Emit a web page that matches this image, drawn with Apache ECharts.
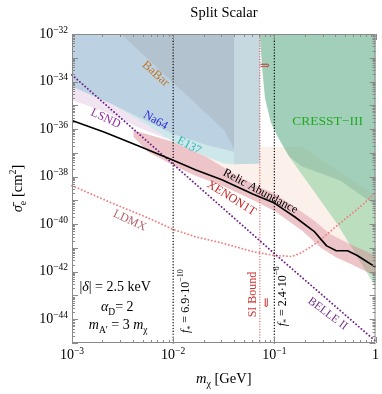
<!DOCTYPE html>
<html><head><meta charset="utf-8">
<script src="https://cdn.jsdelivr.net/npm/echarts@6/dist/echarts.min.js"></script>
<style>html,body{margin:0;padding:0;background:#fff}#c{width:382px;height:394px}</style>
</head><body><div id="c"></div>
<script>
// ---------- data (m_chi in GeV, sigma_e in cm^2) ----------
const xRange = [1e-3, 1];
const yRange = [1e-45, 1e-32];
const fStarMasses = [0.01, 0.1];
const siBoundMass = 0.072;

const relicAbundance = [[1e-3,2.3e-36],[2.1e-3,7.4e-37],[4.5e-3,2.0e-37],[0.01,4.9e-38],[0.0168,1.9e-38],[0.0303,7.4e-39],[0.062,1.8e-39],[0.1,7.7e-40],[0.16,2.0e-40],[0.247,5.0e-41],[0.288,2.35e-41],[0.329,1.22e-41],[0.41,7.6e-42],[0.53,7.6e-42],[0.66,4.8e-42],[1,1.55e-42]];
const belle2Projection = [[1e-3,1.9e-34],[0.1,5.8e-42],[1,1.2e-45]];
const ldmxProjection = [[1e-3,4.2e-39],[2.35e-3,8.5e-40],[5.6e-3,1.86e-40],[0.01,6.0e-41],[0.0168,2.9e-41],[0.0303,1.62e-41],[0.062,6.9e-42],[0.1,4.8e-42],[0.15,4.4e-42],[0.186,6.3e-42],[0.27,1.78e-41],[0.42,8.9e-41],[0.738,6.3e-40],[1,2.2e-39]];

const lsndRegion = [[1e-3,1e-32],[8.7e-3,1e-32],[8.7e-3,3.8e-37],[4.5e-3,1.2e-36],[2.35e-3,4.5e-36],[1e-3,1.66e-35]];
const peachRegion = [[0.0135,1.8e-37],[0.186,1.8e-37],[1,1.62e-39],[1,4.8e-42],[0.556,1.48e-41],[0.36,3.8e-41],[0.247,1.41e-40],[0.16,5.2e-40],[0.1,2.0e-39],[0.072,3.5e-39],[0.04,1.29e-38],[0.021,7.1e-38]];
const cresstLight = [[0.072,1e-32],[1,1e-32],[1,2.35e-43],[0.42,9.8e-41],[0.14,7.1e-38],[0.108,4.7e-37],[0.0925,1.9e-36],[0.081,2.0e-35],[0.0759,3.4e-34]];
const cresstDark = [[0.072,1e-32],[1,1e-32],[1,6.3e-40],[0.446,6.8e-39],[0.186,2.75e-38],[0.14,7.1e-38],[0.108,4.7e-37],[0.0925,1.9e-36],[0.081,2.0e-35],[0.0759,3.4e-34]];
const xenonBand = [[4.05e-3,8.9e-37],[0.01,2.9e-37],[0.021,7.1e-38],[0.04,1.29e-38],[0.072,3.5e-39],[0.1,2.0e-39],[0.16,5.2e-40],[0.247,1.41e-40],[0.36,3.8e-41],[0.556,1.48e-41],[1,4.8e-42],
  [1,6.6e-43],[0.556,2.2e-42],[0.41,4.0e-42],[0.288,1.02e-41],[0.186,5.5e-41],[0.1,3.6e-40],[0.062,1.02e-39],[0.0303,4.2e-39],[0.0168,1.07e-38],[0.01,3.0e-38],[5.6e-3,1.12e-37],[4.05e-3,4.7e-37]];
const e137Region = [[1e-3,1e-32],[0.072,1e-32],[0.072,3.6e-38],[0.04,3.3e-38],[0.032,3.6e-38],[0.021,7.1e-38],[0.01,2.9e-37],[5.6e-3,1.45e-36],[2.35e-3,1.38e-35],[1e-3,6.2e-35]];
const e137Upper = [[0.04,1e-32],[0.072,1e-32],[0.072,3.6e-38],[0.04,3.3e-38]];
const na64Region = [[1e-3,1e-32],[0.04,1e-32],[0.04,1.12e-37],[0.021,2.2e-37],[0.01,6.2e-37],[5.6e-3,2.1e-36],[2.35e-3,1.26e-35],[1e-3,6.2e-35]];
const babarRegion = [[3.05e-3,1e-32],[0.032,8.9e-37],[0.04,1.5e-37],[0.04,1e-32]];

// The log axis works on sigma_e expressed in units of 1e-40 cm^2 (labels add the factor back).
const Y_UNIT_EXP = -40;
const toAxis = p => [p[0], p[1] * Math.pow(10, -Y_UNIT_EXP)];

// ---------- annotations ----------
const F = '"Liberation Serif", "DejaVu Serif", serif';
const labels = [
  {at:[6.7e-3,2.1e-34], t:'BaBar', c:'#c47a2c', r:-42, s:12.5},
  {at:[6.7e-3,2.3e-36], t:'Na64', c:'#2b2bd9', r:-30, s:12},
  {at:[0.0144,2e-37], t:'E137', c:'#2bb5b5', r:-28, s:12},
  {at:[2.15e-3,2.75e-36], t:'LSND', c:'#8e2a9c', r:-25, s:12},
  {at:[0.336,2.1e-36], t:'CRESST\u2212III', c:'#22aa22', r:0, s:13.5},
  {at:[0.0726,2.4e-39], t:'Relic Abundance', c:'#000', r:-28, s:12},
  {at:[0.0377,1.23e-39], t:'XENON1T', c:'#cc2222', r:-32, s:12},
  {at:[3.72e-3,1.4e-40], t:'LDMX', c:'#b0606a', r:-25, s:12},
  {at:[0.336,1.7e-44], t:'BELLE II', c:'#6f2d86', r:-37, s:11.5},
  {at:[0.061,1.1e-43], t:'SI Bound', c:'#cc3333', r:90, s:12},
  {at:[0.0828,4.3e-44], t:'\u21d3', c:'#cc3333', r:0, s:12},
  {at:[0.0806,4.5e-34], t:'\u21d2', c:'#cc3333', r:0, s:12},
  {at:[0.0132,5.8e-44], t:'{i|f}{sub|*} = 6.9\u00b710{sup|\u221210}', c:'#000', r:90, s:12},
  {at:[0.120,9.1e-44], t:'{i|f}{sub|*} = 2.4\u00b710{sup|\u22126}', c:'#000', r:90, s:12},
  {at:[2.67e-3,2.1e-43], t:'|{i|\u03b4}| = 2.5 keV', c:'#000', r:0, s:14},
  {at:[2.8e-3,3.2e-44], t:'{i|\u03b1}{sub|D}= 2', c:'#000', r:0, s:14},
  {at:[2.86e-3,5.5e-45], t:'{i|m}{sub|A\u2032} = 3 {i|m}{sub|\u03c7}', c:'#000', r:0, s:14}
];

function richFor(size, color) {
  return {
    i: {fontFamily: F, fontStyle: 'italic', fontSize: size, fill: color},
    sub: {fontFamily: F, fontSize: size * 0.68, verticalAlign: 'bottom', lineHeight: size * 0.8, fill: color},
    sup: {fontFamily: F, fontSize: size * 0.68, verticalAlign: 'top', lineHeight: size * 0.8, fill: color}
  };
}

function polySeries(pts, color, z) {
  const ap = pts.map(toAxis);
  return {
    type: 'custom', z: z, silent: true, clip: true, data: ap,
    renderItem: function (params, api) {
      if (params.dataIndex !== 0) return null;
      return {type: 'polygon', shape: {points: ap.map(p => api.coord(p))}, style: {fill: color}};
    }
  };
}
function lineSeries(data, color, dash, width, z) {
  return {type: 'line', data: data.map(toAxis), showSymbol: false, silent: true, z: z, clip: true,
    lineStyle: {color: color, type: dash, width: width, cap: dash === 'solid' ? 'butt' : 'round'}};
}

const yMinA = toAxis([0, yRange[0]])[1], yMaxA = toAxis([0, yRange[1]])[1];

const series = [
  polySeries(lsndRegion, '#efe4f0', 1),
  polySeries(peachRegion, 'rgba(235,185,150,0.2)', 2),
  polySeries(cresstLight, 'rgba(110,200,140,0.45)', 3),
  polySeries(cresstDark, 'rgba(80,140,130,0.25)', 4),
  polySeries(xenonBand, 'rgba(210,110,120,0.40)', 5),
  polySeries(e137Region, '#cde7ea', 6),
  polySeries(e137Upper, '#c6d8e0', 6.5),
  polySeries(na64Region, '#bcd1e2', 7),
  polySeries(babarRegion, 'rgba(150,150,150,0.25)', 8),
  lineSeries(ldmxProjection, '#f47c7c', [0.1, 3.4], 1.8, 10),
  lineSeries(belle2Projection, '#6a1b8a', [0.1, 3.4], 1.8, 10),
  lineSeries(relicAbundance, '#000', 'solid', 1.6, 11),
  lineSeries([[siBoundMass, yRange[0]], [siBoundMass, yRange[1]]], '#d33', [0.1, 2.6], 1.1, 10),
  lineSeries([[fStarMasses[0], yRange[0]], [fStarMasses[0], yRange[1]]], '#111', [0.1, 2.8], 1.4, 10),
  lineSeries([[fStarMasses[1], yRange[0]], [fStarMasses[1], yRange[1]]], '#111', [0.1, 2.8], 1.4, 10),
  {
    type: 'custom', z: 20, silent: true, data: labels.map(l => toAxis(l.at)),
    renderItem: function (params, api) {
      const l = labels[params.dataIndex];
      const p = api.coord(toAxis(l.at));
      return {type: 'text', x: p[0], y: p[1], rotation: l.r * Math.PI / 180,
        style: {text: l.t, fill: l.c, fontFamily: F, fontSize: l.s, lineHeight: l.s * 1.5,
          align: 'center', verticalAlign: 'middle', rich: richFor(l.s, l.c)}};
    }
  },
  {
    type: 'custom', z: 30, silent: true, data: [[xRange[0], yMinA]],
    renderItem: function (params, api) {
      const cs = params.coordSys;
      const ch = [];
      const st = {stroke: '#8a8a8a', lineWidth: 1};
      const x0 = cs.x, x1 = cs.x + cs.width, y0 = cs.y, y1 = cs.y + cs.height;
      for (let e = -3; e <= 0; e++) for (let k = 1; k <= 9; k++) {
        const v = k * Math.pow(10, e); if (v > xRange[1] * 1.0001) break;
        const px = Math.round(api.coord([v, yMinA])[0]) + 0.5; const len = k === 1 ? 6 : 3;
        ch.push({type: 'line', shape: {x1: px, y1: y1, x2: px, y2: y1 - len}, style: st});
        ch.push({type: 'line', shape: {x1: px, y1: y0, x2: px, y2: y0 + len}, style: st});
      }
      for (let e = -45; e <= -32; e++) for (let k = 1; k <= 9; k++) {
        const v = k * Math.pow(10, e - Y_UNIT_EXP); if (v > yMaxA * 1.0001) break;
        const py = Math.round(api.coord([xRange[0], v])[1]) + 0.5; const len = k === 1 ? 6 : 3;
        ch.push({type: 'line', shape: {x1: x0, y1: py, x2: x0 + len, y2: py}, style: st});
        ch.push({type: 'line', shape: {x1: x1, y1: py, x2: x1 - len, y2: py}, style: st});
      }
      ch.push({type: 'rect', shape: {x: x0 + 0.5, y: y0 + 0.5, width: cs.width - 1, height: cs.height - 1}, style: {fill: 'none', stroke: '#8a8a8a', lineWidth: 1}});
      return {type: 'group', children: ch};
    }
  }
];

function powText(e) {
  if (e === 0) return '{b|1}';
  return '{b|10}{s|' + (e < 0 ? '\u2212' : '') + Math.abs(e) + '}';
}
const axisRich = {
  b: {fontFamily: F, fontSize: 14, color: '#000', lineHeight: 18},
  s: {fontFamily: F, fontSize: 9.5, color: '#000', verticalAlign: 'top', lineHeight: 11}
};

const chart = echarts.init(document.getElementById('c'), null, {renderer: 'canvas'});
chart.setOption({
  animation: false,
  title: {text: 'Split Scalar', left: 219, top: 1, textAlign: 'center',
    textStyle: {fontFamily: F, fontSize: 14.5, fontWeight: 'normal', color: '#000'}},
  grid: {left: 61, right: 5, top: 34, bottom: 42},
  xAxis: {type: 'log', logBase: 10, min: xRange[0], max: xRange[1], interval: 1,
    axisLine: {show: false}, axisTick: {show: false}, splitLine: {show: false},
    axisLabel: {formatter: v => powText(Math.round(Math.log10(v))), rich: axisRich, margin: 3},
    name: '{i|m}{sub|\u03c7} [GeV]', nameLocation: 'middle', nameGap: 26,
    nameTextStyle: {fontFamily: F, fontSize: 14.5, color: '#000', lineHeight: 20,
      rich: {i: {fontFamily: F, fontStyle: 'italic', fontSize: 14.5, color: '#000'},
             sub: {fontFamily: F, fontSize: 10, color: '#000', verticalAlign: 'bottom', lineHeight: 12}}}},
  yAxis: {type: 'log', logBase: 10, min: yMinA, max: yMaxA, interval: 1,
    axisLine: {show: false}, axisTick: {show: false}, splitLine: {show: false},
    axisLabel: {formatter: function (v) { const e = Math.round(Math.log10(v)) + Y_UNIT_EXP; return (e % 2 === 0) ? powText(e) : ''; },
      rich: axisRich, margin: 4, hideOverlap: false},
    name: '{i|\u03c3\u0304}{sub|e} [cm{sup|2}]', nameLocation: 'middle', nameGap: 44, nameRotate: 90,
    nameTextStyle: {fontFamily: F, fontSize: 14.5, color: '#000', lineHeight: 20,
      rich: {i: {fontFamily: F, fontStyle: 'italic', fontSize: 14.5, color: '#000'},
             sub: {fontFamily: F, fontSize: 10, color: '#000', verticalAlign: 'bottom', lineHeight: 12},
             sup: {fontFamily: F, fontSize: 10, color: '#000', verticalAlign: 'top', lineHeight: 12}}}},
  series: series
});
</script></body></html>
